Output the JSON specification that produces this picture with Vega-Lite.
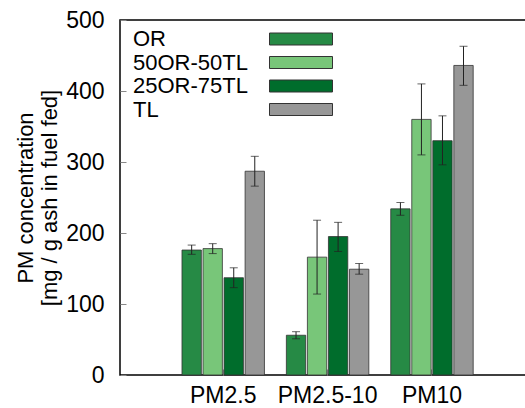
{
  "$schema": "https://vega.github.io/schema/vega-lite/v6.json",
  "width": 406,
  "height": 355,
  "autosize": "none",
  "padding": {"left": 120, "top": 20, "right": 0, "bottom": 33},
  "config": {
    "font": "Liberation Sans",
    "view": {"stroke": "#000000", "strokeWidth": 1.5},
    "axis": {"domain": false, "grid": false, "labelFont": "Liberation Sans", "titleFont": "Liberation Sans", "labelColor": "#000", "titleColor": "#000", "labelFontSize": 23, "titleFontSize": 22, "titleFontWeight": "normal", "tickColor": "#888"}
  },
  "data": {
    "values": [
      {"size": "PM2.5", "blend": "OR", "value": 176, "lo": 170, "hi": 183},
      {"size": "PM2.5", "blend": "50OR-50TL", "value": 178, "lo": 171, "hi": 185},
      {"size": "PM2.5", "blend": "25OR-75TL", "value": 137, "lo": 123, "hi": 151},
      {"size": "PM2.5", "blend": "TL", "value": 287, "lo": 266, "hi": 308},
      {"size": "PM2.5-10", "blend": "OR", "value": 56, "lo": 51, "hi": 61},
      {"size": "PM2.5-10", "blend": "50OR-50TL", "value": 166, "lo": 114, "hi": 218},
      {"size": "PM2.5-10", "blend": "25OR-75TL", "value": 195, "lo": 174, "hi": 215},
      {"size": "PM2.5-10", "blend": "TL", "value": 149, "lo": 142, "hi": 157},
      {"size": "PM10", "blend": "OR", "value": 234, "lo": 225, "hi": 243},
      {"size": "PM10", "blend": "50OR-50TL", "value": 360, "lo": 310, "hi": 410},
      {"size": "PM10", "blend": "25OR-75TL", "value": 330, "lo": 296, "hi": 365},
      {"size": "PM10", "blend": "TL", "value": 436, "lo": 408, "hi": 463}
    ]
  },
  "encoding": {
    "x": {
      "field": "size", "type": "nominal", "sort": ["PM2.5", "PM2.5-10", "PM10"],
      "scale": {"paddingInner": 0.21, "paddingOuter": 0.55, "align": 0.54},
      "axis": {"title": null, "labelAngle": 0, "tickSize": -6, "labelPadding": 15}
    },
    "xOffset": {"field": "blend", "type": "nominal", "sort": ["OR", "50OR-50TL", "25OR-75TL", "TL"], "scale": {"paddingInner": 0.08}}
  },
  "layer": [
    {
      "mark": {"type": "bar", "stroke": "#333333", "strokeWidth": 1, "strokeOpacity": 0.8},
      "encoding": {
        "y": {
          "field": "value", "type": "quantitative",
          "scale": {"domain": [0, 500], "nice": false},
          "axis": {"values": [0, 100, 200, 300, 400, 500], "tickSize": -6, "labelPadding": 22, "title": ["PM concentration", "[mg / g ash in fuel fed]"], "titlePadding": 4}
        },
        "color": {
          "field": "blend", "type": "nominal",
          "sort": ["OR", "50OR-50TL", "25OR-75TL", "TL"],
          "scale": {"domain": ["OR", "50OR-50TL", "25OR-75TL", "TL"], "range": ["#268a45", "#78c679", "#006d2c", "#979797"]},
          "legend": {
            "title": null, "orient": "none", "legendX": 170, "legendY": 8,
            "padding": 0, "rowPadding": 1.5,
            "symbolType": "M-5.25,-1H5.25V1H-5.25Z", "symbolSize": 144,
            "symbolStrokeColor": "#333333", "symbolStrokeWidth": 1, "symbolOpacity": 1,
            "labelFontSize": 22, "labelColor": "#000", "labelFont": "Liberation Sans",
            "labelOffset": -179, "labelAlign": "left"
          }
        }
      }
    },
    {
      "mark": {"type": "rule", "color": "#222222", "strokeWidth": 1},
      "encoding": {
        "y": {"field": "lo", "type": "quantitative"},
        "y2": {"field": "hi"}
      }
    },
    {
      "mark": {"type": "tick", "color": "#222222", "thickness": 1, "size": 8, "orient": "horizontal"},
      "encoding": {"y": {"field": "lo", "type": "quantitative"}}
    },
    {
      "mark": {"type": "tick", "color": "#222222", "thickness": 1, "size": 8, "orient": "horizontal"},
      "encoding": {"y": {"field": "hi", "type": "quantitative"}}
    }
  ]
}
